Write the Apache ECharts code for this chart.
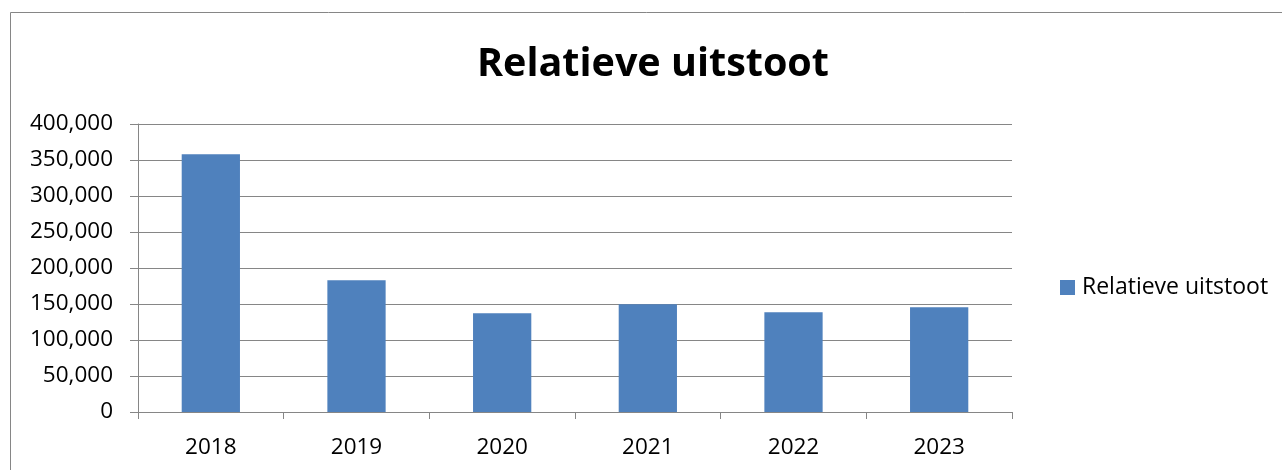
<!DOCTYPE html>
<html>
<head>
<meta charset="utf-8">
<script src="https://cdn.jsdelivr.net/npm/echarts@6/dist/echarts.min.js"></script>
<style>
html,body{margin:0;padding:0;background:#fff;}
#c{width:1282px;height:470px;}
</style>
</head>
<body>
<div id="c"></div>
<script>
const categories = ['2018', '2019', '2020', '2021', '2022', '2023'];
const values = [358000, 183000, 137000, 149500, 138500, 145500];
const seriesName = 'Relatieve uitstoot';
const titleText = 'Relatieve uitstoot';

const chart = echarts.init(document.getElementById('c'), null, {renderer: 'canvas'});
const FONT = '"Open Sans"';
chart.setOption({
  animation: false,
  backgroundColor: '#ffffff',
  graphic: [{
    type: 'rect',
    shape: {x: 10.5, y: 12.5, width: 1280, height: 480},
    style: {fill: 'none', stroke: '#868686', lineWidth: 1},
    silent: true,
    z: -1
  }],
  title: {
    text: titleText,
    left: 648,
    textAlign: 'center',
    top: 40,
    textStyle: {fontFamily: FONT, fontWeight: 'bold', fontSize: 39.5, color: '#000'}
  },
  legend: {
    left: 1055,
    top: 271,
    itemWidth: 15,
    itemHeight: 15,
    itemGap: 10,
    icon: 'rect',
    textStyle: {fontFamily: FONT, fontSize: 23, color: '#000', padding: [0, 0, 0, 2]},
    data: [seriesName]
  },
  grid: {left: 138, right: 270, top: 124, bottom: 58, containLabel: false},
  xAxis: {
    type: 'category',
    data: categories,
    boundaryGap: true,
    axisLine: {lineStyle: {color: '#868686', width: 1}},
    axisTick: {show: true, alignWithLabel: false, length: 7, lineStyle: {color: '#868686'}},
    axisLabel: {fontFamily: FONT, fontSize: 22.5, color: '#000', margin: 24}
  },
  yAxis: {
    type: 'value',
    min: 0,
    max: 400000,
    interval: 50000,
    axisLine: {show: true, lineStyle: {color: '#868686', width: 1}},
    axisTick: {show: true, length: 8, lineStyle: {color: '#868686'}},
    splitLine: {show: true, lineStyle: {color: '#868686', width: 1}},
    axisLabel: {
      fontFamily: FONT, fontSize: 22.5, color: '#000', margin: 25,
      formatter: function (v) { return v.toLocaleString('en-US'); }
    }
  },
  series: [{
    name: seriesName,
    type: 'bar',
    data: values,
    barWidth: '40%',
    itemStyle: {color: '#4F81BD'}
  }]
});
</script>
</body>
</html>
